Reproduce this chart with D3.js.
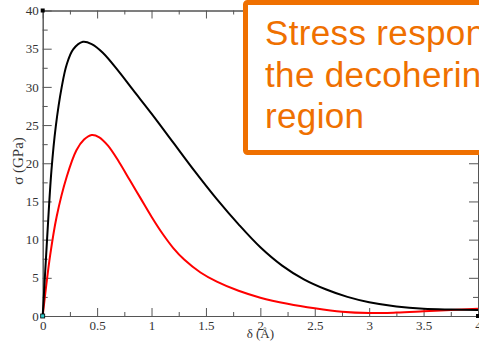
<!DOCTYPE html>
<html>
<head>
<meta charset="utf-8">
<script src="https://cdn.jsdelivr.net/npm/d3@7"></script>
<style>
  html, body { margin: 0; padding: 0; background: #fff; overflow: hidden; }
  .axis text { font-family: "Liberation Serif", "Times New Roman", serif; font-size: 13px; fill: #333; }
  .axis path, .axis line { stroke: #555; }
</style>
</head>
<body>
<div id="chart"></div>
<script>
// black curve: delta (Å) and sigma (GPa)
const blackDelta = [0, 0.04, 0.08, 0.12, 0.175, 0.22, 0.28, 0.37, 0.45, 0.55, 0.7, 0.83, 1.0, 1.2, 1.4, 1.6, 1.8, 2.0, 2.2, 2.4, 2.6, 2.8, 3.0, 3.25, 3.5, 3.75, 4.0];
const blackSigma = [0, 10, 19, 24.8, 30, 32.9, 34.9, 35.9, 35.6, 34.5, 32.0, 29.6, 26.5, 22.7, 18.9, 15.3, 12.0, 9.0, 6.6, 4.8, 3.5, 2.5, 1.8, 1.25, 0.95, 0.85, 0.8];

// red curve
const redDelta = [0, 0.067, 0.128, 0.22, 0.31, 0.38, 0.45, 0.52, 0.6, 0.7, 0.8, 0.9, 1.0, 1.1, 1.2, 1.3, 1.45, 1.6, 1.8, 2.0, 2.25, 2.5, 2.75, 3.0, 3.25, 3.5, 3.75, 4.0];
const redSigma = [0, 7.8, 13, 18.2, 21.7, 23.1, 23.7, 23.4, 22.3, 20.2, 17.8, 15.4, 13.0, 10.8, 8.9, 7.4, 5.7, 4.5, 3.3, 2.4, 1.6, 1.0, 0.55, 0.38, 0.45, 0.62, 0.8, 0.95];

const xMajor = [0, 0.5, 1, 1.5, 2, 2.5, 3, 3.5, 4];
const yMajor = [0, 5, 10, 15, 20, 25, 30, 35, 40];

const noteLines = ["Stress response in", "the decohering", "region"];

const W = 479, H = 349;
const margin = { top: 10.5, left: 42.7, right: 1, bottom: 33 };

const svg = d3.select("#chart").append("svg")
  .attr("width", W)
  .attr("height", H);

const x = d3.scaleLinear().domain([0, 4]).range([margin.left, W - margin.right]);
const y = d3.scaleLinear().domain([0, 40]).range([H - margin.bottom, margin.top]);

const xMinor = d3.range(0, 4.001, 0.25).filter(v => !xMajor.includes(v));
const yMinor = d3.range(0, 40.001, 2.5).filter(v => !yMajor.includes(v));

// bottom axis, ticks pointing inward
svg.append("g").attr("class", "axis")
  .attr("transform", `translate(0,${y(0)})`)
  .call(d3.axisBottom(x).tickValues(xMajor).tickSize(-8).tickSizeOuter(0).tickPadding(5)
    .tickFormat(d3.format("")));
svg.append("g").attr("class", "axis")
  .attr("transform", `translate(0,${y(0)})`)
  .call(d3.axisBottom(x).tickValues(xMinor).tickSize(-4).tickSizeOuter(0).tickFormat(""));

// top axis
svg.append("g").attr("class", "axis")
  .attr("transform", `translate(0,${y(40)})`)
  .call(d3.axisTop(x).tickValues(xMajor).tickSize(-8).tickSizeOuter(0).tickFormat(""));
svg.append("g").attr("class", "axis")
  .attr("transform", `translate(0,${y(40)})`)
  .call(d3.axisTop(x).tickValues(xMinor).tickSize(-4).tickSizeOuter(0).tickFormat(""));

// left axis
svg.append("g").attr("class", "axis")
  .attr("transform", `translate(${x(0)},0)`)
  .call(d3.axisLeft(y).tickValues(yMajor).tickSize(-9).tickSizeOuter(0).tickPadding(4));
svg.append("g").attr("class", "axis")
  .attr("transform", `translate(${x(0)},0)`)
  .call(d3.axisLeft(y).tickValues(yMinor).tickSize(-5).tickSizeOuter(0).tickFormat(""));

// right axis
svg.append("g").attr("class", "axis")
  .attr("transform", `translate(${x(4)},0)`)
  .call(d3.axisRight(y).tickValues(yMajor).tickSize(-9).tickSizeOuter(0).tickFormat(""));
svg.append("g").attr("class", "axis")
  .attr("transform", `translate(${x(4)},0)`)
  .call(d3.axisRight(y).tickValues(yMinor).tickSize(-5).tickSizeOuter(0).tickFormat(""));

// axis titles
svg.append("text")
  .attr("x", (x(0) + x(4)) / 2)
  .attr("y", 338)
  .attr("text-anchor", "middle")
  .style("font-family", "Liberation Serif, Times New Roman, serif")
  .style("font-size", "13px")
  .attr("fill", "#333")
  .text("δ (Å)");

svg.append("text")
  .attr("transform", "translate(23,161) rotate(-90)")
  .attr("text-anchor", "middle")
  .style("font-family", "Liberation Serif, Times New Roman, serif")
  .style("font-size", "15px")
  .attr("fill", "#333")
  .text("σ (GPa)");

// curves
const line = d3.line()
  .x(d => x(d[0]))
  .y(d => y(d[1]))
  .curve(d3.curveCatmullRom.alpha(0.5));

svg.append("path")
  .datum(d3.zip(redDelta, redSigma))
  .attr("fill", "none")
  .attr("stroke", "#ff0000")
  .attr("stroke-width", 2)
  .attr("d", line);

svg.append("path")
  .datum(d3.zip(blackDelta, blackSigma))
  .attr("fill", "none")
  .attr("stroke", "#000")
  .attr("stroke-width", 2)
  .attr("d", line);

// small corner markers
svg.append("rect").attr("x", x(0) - 2).attr("y", y(40) - 2).attr("width", 4).attr("height", 4).attr("fill", "#000");
svg.append("rect").attr("x", x(0) - 2).attr("y", y(0) - 2).attr("width", 4).attr("height", 4)
  .attr("fill", "#3cc").attr("stroke", "#000").attr("stroke-width", 0.8);
svg.append("rect").attr("x", x(4) - 2).attr("y", y(0) - 2).attr("width", 4).attr("height", 4).attr("fill", "#000");

// orange note box
const orange = "#ef7000";
svg.append("rect")
  .attr("x", 245.5)
  .attr("y", 2.5)
  .attr("width", 260)
  .attr("height", 150)
  .attr("rx", 2)
  .attr("fill", "#fff")
  .attr("stroke", orange)
  .attr("stroke-width", 5);

svg.append("g").selectAll("text")
  .data(noteLines)
  .join("text")
  .attr("x", 265)
  .attr("y", (d, i) => 45 + i * 41.7)
  .style("font-family", "Liberation Sans, Arial, sans-serif")
  .style("font-size", "35px")
  .style("letter-spacing", "0.35px")
  .attr("fill", orange)
  .text(d => d);
</script>
</body>
</html>
